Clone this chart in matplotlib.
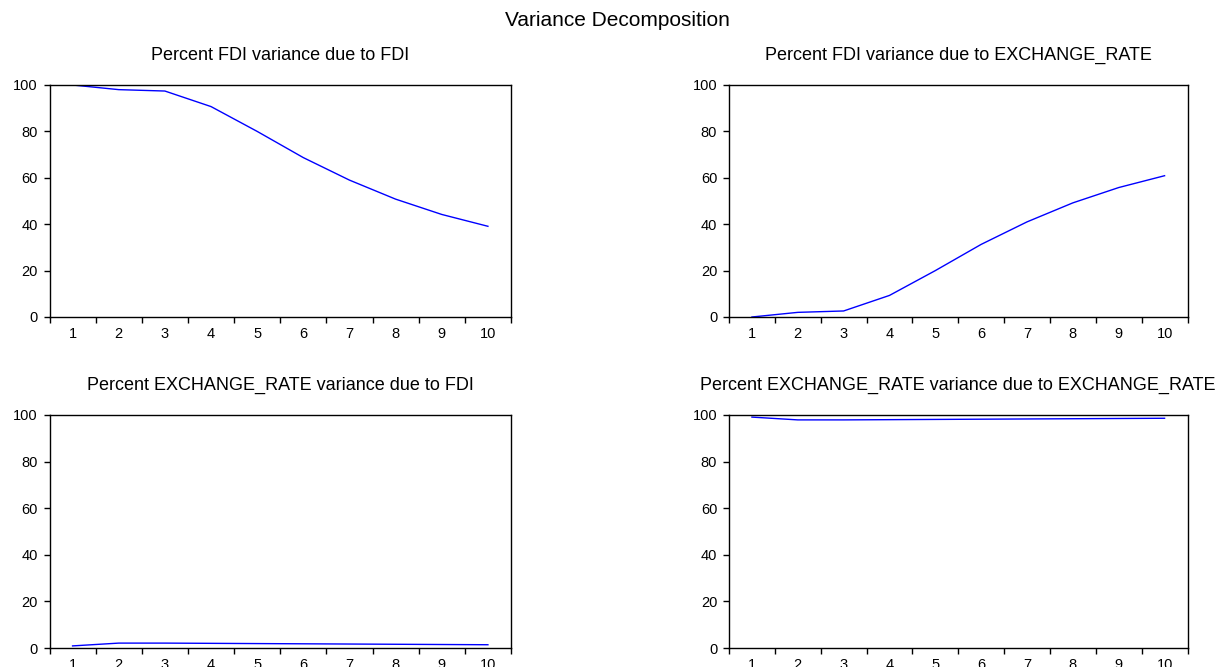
import matplotlib

matplotlib.use("Agg")

import matplotlib.pyplot as plt
import numpy as np
from matplotlib.ticker import FixedLocator, NullFormatter

plt.rcParams["font.family"] = ["Liberation Sans", "DejaVu Sans"]

periods = np.arange(1, 11)

fdi_due_fdi = [100.0, 98.0, 97.4, 90.7, 80.0, 68.7, 59.0, 50.8, 44.2, 39.1]
fdi_due_er = [0.0, 2.0, 2.6, 9.3, 20.0, 31.3, 41.0, 49.2, 55.8, 60.9]
er_due_fdi = [0.9, 2.1, 2.1, 2.0, 1.9, 1.8, 1.7, 1.6, 1.5, 1.4]
er_due_er = [99.1, 97.9, 97.9, 98.0, 98.1, 98.2, 98.3, 98.4, 98.5, 98.6]

panel_titles = [
    "Percent FDI variance due to FDI",
    "Percent FDI variance due to EXCHANGE_RATE",
    "Percent EXCHANGE_RATE variance due to FDI",
    "Percent EXCHANGE_RATE variance due to EXCHANGE_RATE",
]
series = [fdi_due_fdi, fdi_due_er, er_due_fdi, er_due_er]

W, H = 1231, 667
# pixel boxes: left, right, top, bottom
boxes = [
    (49.5, 511, 85, 317),
    (729, 1187.5, 85, 317),
    (49.5, 511, 415, 648),
    (729, 1187.5, 415, 648),
]
title_y = [55, 55, 385, 385]

fig = plt.figure(figsize=(W / 100, H / 100), dpi=100)
fig.patch.set_facecolor("white")

for (l, r, t, b), values, title, ty in zip(boxes, series, panel_titles, title_y):
    ax = fig.add_axes([l / W, 1 - b / H, (r - l) / W, (b - t) / H])
    ax.plot(periods, values, color="#0000FF", linewidth=1.0)
    ax.set_xlim(0.5, 10.5)
    ax.set_ylim(0, 100)
    ax.set_yticks(np.arange(0, 101, 20))
    ax.xaxis.set_major_locator(FixedLocator(np.arange(0.5, 11, 1.0)))
    ax.xaxis.set_major_formatter(NullFormatter())
    ax.xaxis.set_minor_locator(FixedLocator(periods))
    ax.set_xticklabels([str(p) for p in periods], minor=True)
    ax.tick_params(axis="x", which="major", direction="out", length=4.5, width=1.0)
    ax.tick_params(axis="x", which="minor", length=0, pad=7, labelsize=10.5)
    ax.tick_params(axis="y", direction="out", length=4.5, width=1.0, pad=4, labelsize=10.5)
    for spine in ax.spines.values():
        spine.set_linewidth(1.0)
    fig.text((l + r) / 2 / W, 1 - ty / H, title, ha="center", va="center", fontsize=13)

fig.text(617 / W, 1 - 20 / H, "Variance Decomposition", ha="center", va="center", fontsize=15)

fig.savefig("out.png", dpi=100, facecolor="white")
